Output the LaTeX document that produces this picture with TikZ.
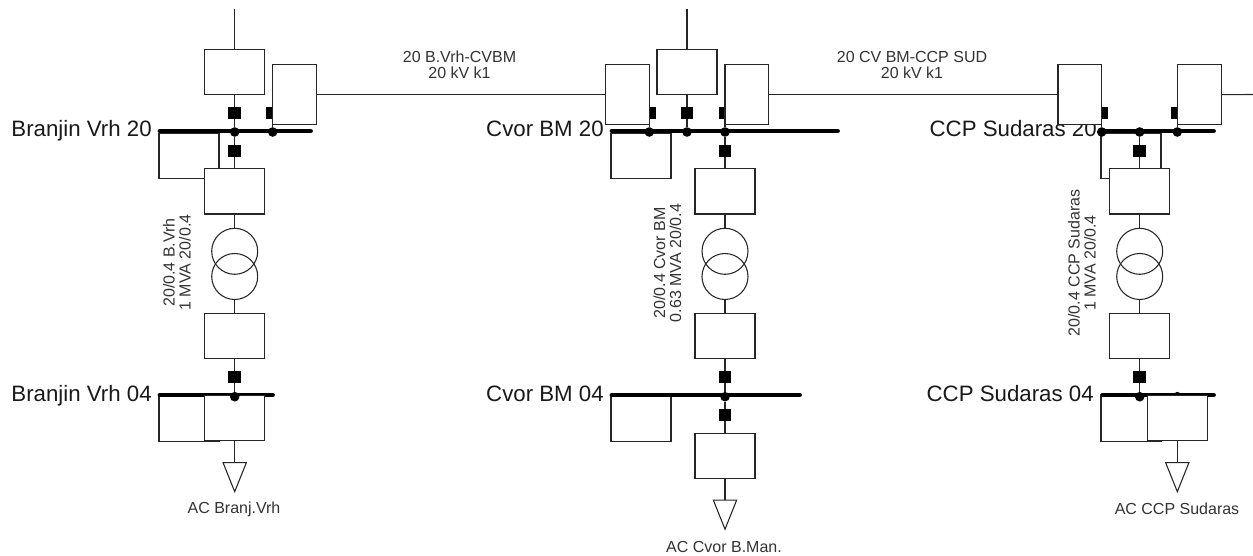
\documentclass[tikz,border=0pt]{standalone}
\usepackage{fontspec}
\setmainfont{Liberation Sans}
\usetikzlibrary{positioning, shapes, shapes.geometric}
\tikzset{wire/.style={draw=black!85, line width=0.8pt}}
\tikzset{bus/.style={draw=black, line width=3.6pt, line cap=round}}
\tikzset{tbox/.style={wire, fill=white, rectangle, inner sep=0, outer sep=0, minimum width=45pt, minimum height=33.8pt}}
\tikzset{sbox/.style={wire, fill=white, rectangle, inner sep=0, outer sep=0, minimum width=32.8pt, minimum height=44.8pt}}
\tikzset{brk/.style={fill=black, rectangle, inner sep=0, outer sep=0, minimum size=9.4pt}}
\tikzset{jdot/.style={fill=black, circle, inner sep=0, outer sep=0, minimum size=7.2pt}}
\tikzset{xfmr/.style={wire, circle, inner sep=0, outer sep=0, minimum size=34.5pt}}
\tikzset{loadtri/.style={wire, fill=white, isosceles triangle, isosceles triangle stretches, shape border rotate=-90, inner sep=0, outer sep=0, minimum width=17.5pt, minimum height=21.8pt}}
\tikzset{buslab/.style={anchor=base east, inner sep=0, text=black!90, font=\fontsize{16.7}{20}\selectfont}}
\tikzset{smalllab/.style={inner sep=0, align=center, text=black!80, font=\fontsize{12}{12}\selectfont}}

\begin{document}
\begin{tikzpicture}[x=0.75pt, y=-0.75pt]
	\useasboundingbox (0,0) rectangle (1253,556);

	% bus labels sit under the boxes
	\node[buslab] (labB20) at (152,137) {Branjin Vrh 20};
	\node[buslab] (labB04) at (152,401.5) {Branjin Vrh 04};
	\node[buslab] (labC20) at (604,137) {Cvor BM 20};
	\node[buslab] (labC04) at (604,401.5) {Cvor BM 04};
	\node[buslab] (labS20) at (1097,137) {CCP Sudaras 20};
	\node[buslab] (labS04) at (1094,401.5) {CCP Sudaras 04};
	\node[smalllab] (labL1) at (459.5,64.5) {20 B.Vrh-CVBM\\20 kV k1};
	\node[smalllab] (labL2) at (912,64.5) {20 CV BM-CCP SUD\\20 kV k1};
	\node[smalllab, rotate=90] (labTB) at (177,262.5) {20/0.4 B.Vrh\\1 MVA 20/0.4};
	\node[smalllab, rotate=90] (labTC) at (667.5,263) {20/0.4 Cvor BM\\0.63 MVA 20/0.4};
	\node[smalllab, rotate=90] (labTS) at (1082,263) {20/0.4 CCP Sudaras\\1 MVA 20/0.4};
	\node[smalllab] (labAB) at (234,509) {AC Branj.Vrh};
	\node[smalllab] (labAC) at (724,546.5) {AC Cvor B.Man.};
	\node[smalllab] (labAS) at (1177,509) {AC CCP Sudaras};

	% boxes hanging under the busbars
	\node[tbox] (bH20) at (189,155.7) {};
	\node[tbox] (cH20) at (641,155.7) {};
	\node[tbox] (sH20) at (1131,155.7) {};
	\node[tbox] (bH04) at (189,419) {};
	\node[tbox] (cH04) at (641,419) {};
	\node[tbox] (sH04) at (1131,419) {};

	% busbars
	\coordinate (bW20) at (160,131);
	\coordinate (bE20) at (310.5,131);
	\coordinate (cW20) at (612,131);
	\coordinate (cE20) at (837.5,131);
	\coordinate (sW20) at (1101.5,131);
	\coordinate (sE20) at (1213.5,131);
	\coordinate (bW04) at (160,395);
	\coordinate (bE04) at (272.5,395);
	\coordinate (cW04) at (612,395);
	\coordinate (cE04) at (799.5,395);
	\coordinate (sW04) at (1102.5,395);
	\coordinate (sE04) at (1213.5,395);
	\draw[bus] (bW20) -- (bE20);
	\draw[bus] (cW20) -- (cE20);
	\draw[bus] (sW20) -- (sE20);
	\draw[bus] (bW04) -- (bE04);
	\draw[bus] (cW04) -- (cE04);
	\draw[bus] (sW04) -- (sE04);

	% Branjin Vrh
	\coordinate (bTop) at (234.7,9);
	\node[tbox] (bA) at (234.7,72) {};
	\node[brk] (bAq) at (234.7,113) {};
	\node[jdot] (bAd) at (234.7,132) {};
	\node[brk] (bRq) at (272.7,113) {};
	\node[jdot] (bRd) at (272.7,132) {};
	\node[sbox, anchor=south west] (bR) at (272.7,124.5) {};
	\node[brk] (bTq) at (234.7,151) {};
	\node[tbox] (bT1) at (234.7,191.5) {};
	\node[xfmr] (bX1) at (234.7,251.3) {};
	\node[xfmr] (bX2) at (234.7,276.5) {};
	\node[tbox] (bT2) at (234.7,336.3) {};
	\node[brk] (bLq) at (234.7,377) {};
	\node[tbox] (bLb) at (234.7,418.2) {};
	\node[jdot] (bLd) at (234.7,396.7) {};
	\node[loadtri] (bLt) at (234.7,470.5) {};
	\draw[wire] (bTop) -- (bA.north);
	\draw[wire] (bA.south) -- (bAq);
	\draw[wire] (bAq) -- (bAd);
	\draw[wire] (bR.south west) -- (bRd);
	\draw[wire] (bAd) -- (bTq);
	\draw[wire] (bTq) -- (bT1.north);
	\draw[wire] (bT1.south) -- (bX1.north);
	\draw[wire] (bX2.south) -- (bT2.north);
	\draw[wire] (bT2.south) -- (bLq);
	\draw[wire] (bLq) -- (bLd);
	\draw[wire] (bLb.south) -- (bLt.north);

	% Cvor BM
	\coordinate (cTop) at (687,9);
	\node[tbox] (cA) at (687,72) {};
	\node[brk] (cAq) at (687,113) {};
	\node[jdot] (cAd) at (687,132) {};
	\node[brk] (cPq) at (649.3,113) {};
	\node[jdot] (cPd) at (649.3,132) {};
	\node[sbox, anchor=south east] (cP) at (649.3,124.5) {};
	\node[brk] (cRq) at (725,113) {};
	\node[jdot] (cRd) at (725,132) {};
	\node[sbox, anchor=south west] (cR) at (725,124.5) {};
	\node[brk] (cTq) at (725,151) {};
	\node[tbox] (cT1) at (725,191.5) {};
	\node[xfmr] (cX1) at (725,251.3) {};
	\node[xfmr] (cX2) at (725,276.5) {};
	\node[tbox] (cT2) at (725,336.3) {};
	\node[brk] (cLq) at (725,377) {};
	\node[jdot] (cLd) at (725,396.7) {};
	\node[brk] (cMq) at (725,415) {};
	\node[tbox] (cLb) at (725,455.8) {};
	\node[loadtri] (cLt) at (725,508) {};
	\draw[wire] (cTop) -- (cA.north);
	\draw[wire] (cA.south) -- (cAq);
	\draw[wire] (cAq) -- (cAd);
	\draw[wire] (cP.south east) -- (cPd);
	\draw[wire] (cR.south west) -- (cRd);
	\draw[wire] (cRd) -- (cTq);
	\draw[wire] (cTq) -- (cT1.north);
	\draw[wire] (cT1.south) -- (cX1.north);
	\draw[wire] (cX2.south) -- (cT2.north);
	\draw[wire] (cT2.south) -- (cLq);
	\draw[wire] (cLq) -- (cLd);
	\draw[wire] (cLd) -- (cMq);
	\draw[wire] (cMq) -- (cLb.north);
	\draw[wire] (cLb.south) -- (cLt.north);

	% CCP Sudaras
	\node[jdot] (sAd) at (1139.7,132) {};
	\node[brk] (sPq) at (1101.7,113) {};
	\node[jdot] (sPd) at (1101.7,132) {};
	\node[sbox, anchor=south east] (sP) at (1101.7,124.5) {};
	\node[brk] (sRq) at (1177.3,113) {};
	\node[jdot] (sRd) at (1177.3,132) {};
	\node[sbox, anchor=south west] (sR) at (1177.3,124.5) {};
	\node[brk] (sTq) at (1139.7,151) {};
	\node[tbox] (sT1) at (1139.7,191.5) {};
	\node[xfmr] (sX1) at (1139.7,251.3) {};
	\node[xfmr] (sX2) at (1139.7,276.5) {};
	\node[tbox] (sT2) at (1139.7,336.3) {};
	\node[brk] (sLq) at (1139.7,377) {};
	\node[jdot] (sLd) at (1139.7,396.7) {};
	\node[jdot] (sMd) at (1177.3,396.7) {};
	\node[tbox] (sLb) at (1177.3,418.2) {};
	\node[loadtri] (sLt) at (1177.3,470.5) {};
	\coordinate (sEnd) at (1253,94.5);
	\draw[wire] (sP.south east) -- (sPd);
	\draw[wire] (sR.south west) -- (sRd);
	\draw[wire] (sAd) -- (sTq);
	\draw[wire] (sTq) -- (sT1.north);
	\draw[wire] (sT1.south) -- (sX1.north);
	\draw[wire] (sX2.south) -- (sT2.north);
	\draw[wire] (sT2.south) -- (sLq);
	\draw[wire] (sLq) -- (sLd);
	\draw[wire] (sLb.south) -- (sLt.north);

	% lines between the stations
	\draw[wire] (bR.east) -- (cP.west);
	\draw[wire] (cR.east) -- (sP.west);
	\draw[wire] (sR.east) -- (sEnd);
\end{tikzpicture}
\end{document}
